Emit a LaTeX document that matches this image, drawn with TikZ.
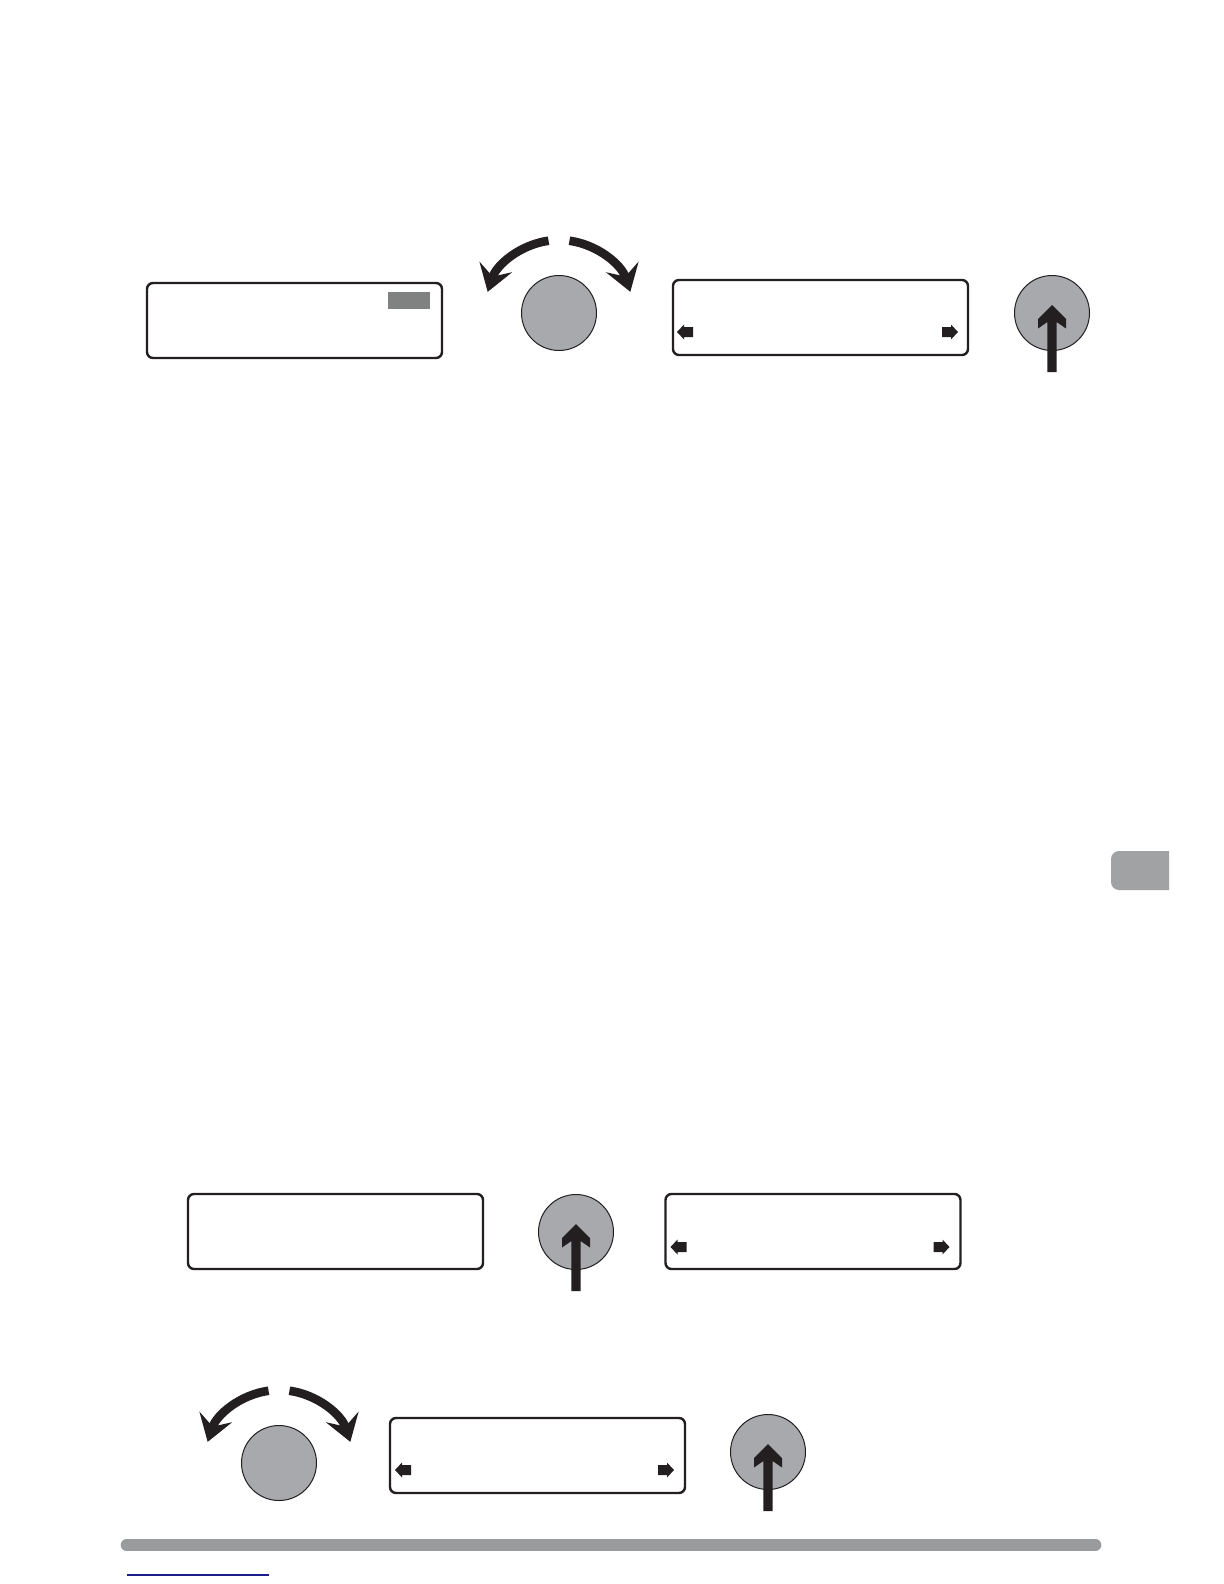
\documentclass[tikz,border=0pt]{standalone}
\usetikzlibrary{arrows.meta,calc}
\definecolor{ink}{HTML}{231F20}
\definecolor{knobgray}{HTML}{A7A9AC}
\definecolor{tagfill}{HTML}{808282}
\definecolor{tabgray}{HTML}{A0A2A4}
\definecolor{bargray}{HTML}{999B9C}
\definecolor{linkblue}{HTML}{1B1B8A}
\tikzset{
  lcd/.style={draw=ink, line width=1.2pt, rounded corners=3pt, fill=white,
    minimum width=147.5pt, minimum height=37.5pt, inner sep=0pt, outer sep=0pt},
  knob/.style={circle, draw=ink, line width=0.5pt, fill=knobgray,
    minimum size=37.5pt, inner sep=0pt, outer sep=0pt},
  turnarrow/.style={draw=ink, line width=4.3pt,
    -{Stealth[length=13pt, width=17pt, inset=5pt]}},
  pics/pressarrow/.style={code={
    \fill[ink] (0,-8) -- (14,6) -- (14,15.5) -- (4.6,9) -- (4.6,59) -- (-4.6,59)
      -- (-4.6,9) -- (-14,15.5) -- (-14,6) -- cycle;}},
  pics/leftblock/.style={code={
    \fill[ink] (0,0) -- (7,-7.5) -- (7,-5) -- (16,-5) -- (16,5) -- (7,5)
      -- (7,7.5) -- cycle;}},
  pics/rightblock/.style={code={
    \fill[ink] (0,0) -- (-7,-7.5) -- (-7,-5) -- (-16,-5) -- (-16,5) -- (-7,5)
      -- (-7,7.5) -- cycle;}},
}
\begin{document}
\begin{tikzpicture}[x=0.5pt, y=-0.5pt]
\useasboundingbox (0,0) rectangle (1224,1584);
\fill[white] (0,0) rectangle (1224,1584);

% ---- top row ----
\node[lcd] (box1) at (294.5,320.5) {};
\fill[tagfill] (388,292) rectangle (430,309);

\node[knob] (knob1) at (559,313) {};
\coordinate (kc1) at ($(knob1.center)+(0,2)$);
\draw[turnarrow] (kc1) ++(-98:75) arc[start angle=-98, end angle=-162, radius=75];
\draw[turnarrow] (kc1) ++(-82:75) arc[start angle=-82, end angle=-18, radius=75];

\node[lcd] (box2) at (820.5,317.5) {};
\pic at ($(box2.west)+(4,14.5)$) {leftblock};
\pic at ($(box2.east)+(-10,14.5)$) {rightblock};

\node[knob] (btn1) at (1052,313) {};
\pic at (btn1.center) {pressarrow};

% ---- side tab ----
\begin{scope}
  \clip (1100,840) rectangle (1169,900);
  \fill[tabgray, rounded corners=4pt] (1111,851) rectangle (1190,890);
\end{scope}

% ---- lower row ----
\node[lcd] (box3) at (335.5,1231.5) {};

\node[knob] (btn2) at (576,1232) {};
\pic at (btn2.center) {pressarrow};

\node[lcd] (box4) at (813,1231.5) {};
\pic at ($(box4.west)+(5,15.5)$) {leftblock};
\pic at ($(box4.east)+(-11,15.5)$) {rightblock};

% ---- bottom row ----
\node[knob] (knob2) at (279,1463) {};
\coordinate (kc2) at ($(knob2.center)+(0,2)$);
\draw[turnarrow] (kc2) ++(-98:75) arc[start angle=-98, end angle=-162, radius=75];
\draw[turnarrow] (kc2) ++(-82:75) arc[start angle=-82, end angle=-18, radius=75];

\node[lcd] (box5) at (537.5,1455.5) {};
\pic at ($(box5.west)+(5,14.5)$) {leftblock};
\pic at ($(box5.east)+(-11,14.5)$) {rightblock};

\node[knob] (btn3) at (768,1452) {};
\pic at (btn3.center) {pressarrow};

% ---- footer ----
\draw[bargray, line width=5.8pt, line cap=round] (126.5,1545) -- (1095.5,1545);
\draw[linkblue, line width=0.6pt] (127,1575) -- (269,1575);
\end{tikzpicture}
\end{document}
